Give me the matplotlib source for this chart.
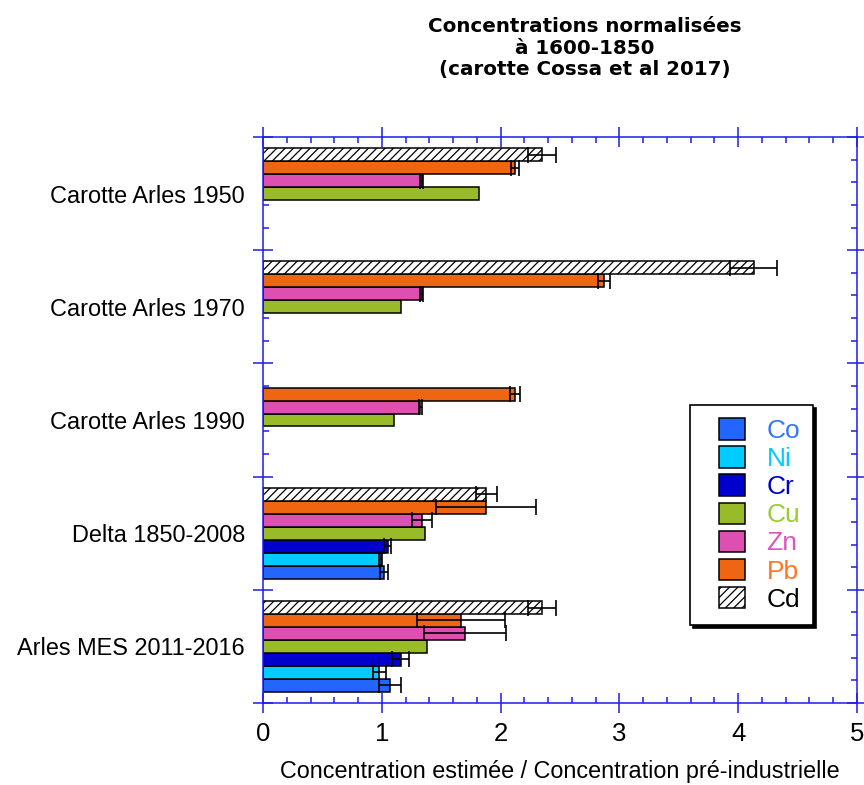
import numpy as np
import matplotlib
matplotlib.use('Agg')
import matplotlib.pyplot as plt
from matplotlib.patches import Rectangle
from matplotlib.container import BarContainer
from matplotlib.legend_handler import HandlerPatch
from matplotlib.ticker import MultipleLocator, AutoMinorLocator

plt.rcParams['font.family'] = ['Liberation Sans', 'DejaVu Sans']
plt.rcParams['hatch.linewidth'] = 0.9

# groupes (du haut vers le bas)
groupes = ['Carotte Arles 1950', 'Carotte Arles 1970', 'Carotte Arles 1990',
           'Delta 1850-2008', 'Arles MES 2011-2016']

# éléments (ordre de la légende)
elements = ['Co', 'Ni', 'Cr', 'Cu', 'Zn', 'Pb', 'Cd']

nan = np.nan
co = [nan, nan, nan, 1.02, 1.07]
ni = [nan, nan, nan, 0.99, 0.98]
cr = [nan, nan, nan, 1.05, 1.16]
cu = [1.82, 1.16, 1.105, 1.365, 1.38]
zn = [1.335, 1.335, 1.325, 1.34, 1.70]
pb = [2.12, 2.87, 2.12, 1.88, 1.67]
cd = [2.35, 4.13, nan, 1.88, 2.35]

co_err = [nan, nan, nan, 0.035, 0.09]
ni_err = [nan, nan, nan, 0.01, 0.055]
cr_err = [nan, nan, nan, 0.03, 0.07]
cu_err = [nan, nan, nan, nan, nan]
zn_err = [0.01, 0.01, 0.01, 0.085, 0.345]
pb_err = [0.035, 0.05, 0.04, 0.42, 0.37]
cd_err = [0.12, 0.2, nan, 0.09, 0.12]

valeurs = [co, ni, cr, cu, zn, pb, cd]
erreurs = [co_err, ni_err, cr_err, cu_err, zn_err, pb_err, cd_err]

couleurs = ['#2266ff', '#00ccff', '#0000cc', '#99bb2a', '#dd4fb0', '#ee6611', 'white']
couleurs_texte = ['#3377ff', '#00ccff', '#0000cc', '#99cc33', '#dd55bb', '#ff7722', 'black']

bleu = '#1c1cee'

fig = plt.figure(figsize=(8.64, 7.85), dpi=100)
ax = fig.add_axes([263 / 864, 1 - 703 / 785, 594 / 864, 566 / 785])

pos = np.arange(len(groupes))
h = 0.1145
handles = []
for k, (el, v, e, c) in enumerate(zip(elements, valeurs, erreurs, couleurs)):
    y = pos + (3 - k) * h
    hatch = '////' if el == 'Cd' else None
    b = ax.barh(y, v, height=h, color=c, edgecolor='black', linewidth=1.1,
                hatch=hatch, zorder=2, label=el)
    handles.append(b)
    ax.errorbar(v, y, xerr=e, fmt='none', ecolor='black', elinewidth=1.2,
                capsize=5.5, capthick=1.2, zorder=3)

ax.set_xlim(0, 5)
ax.set_ylim(len(groupes) - 0.5, -0.5)

# axes bleus, cadre complet
for s in ax.spines.values():
    s.set_color(bleu)
    s.set_linewidth(1.1)

ax.xaxis.set_major_locator(MultipleLocator(1))
ax.xaxis.set_minor_locator(AutoMinorLocator(5))
ax.yaxis.set_major_locator(MultipleLocator(1, offset=0.5))
ax.yaxis.set_minor_locator(AutoMinorLocator(5))
ax.tick_params(which='major', direction='inout', length=15, width=1.1, color=bleu,
               top=True, right=True, labelleft=False, labelsize=18.5, pad=6)
ax.tick_params(which='minor', direction='in', length=4.5, width=1.1, color=bleu,
               top=True, right=True, bottom=True, left=True)

# noms des groupes
sec = ax.secondary_yaxis('left')
sec.set_yticks(pos, labels=groupes)
sec.tick_params(length=0, pad=13, labelsize=16.9)
sec.spines['left'].set_visible(False)

ax.set_xlabel('Concentration estimée / Concentration pré-industrielle',
              fontsize=16.8, labelpad=10)

fig.text(585 / 864, 1 - 17 / 785,
         'Concentrations normalisées\nà 1600-1850\n(carotte Cossa et al 2017)',
         ha='center', va='top', fontsize=14.3, fontweight='bold',
         family='DejaVu Sans', linespacing=1.18)


def carre(legend, orig_handle, xdescent, ydescent, width, height, fontsize):
    cote = 26 * 72 / 100
    return Rectangle((-xdescent + width - cote, -ydescent), cote, height)


def premier(tgt, src):
    tgt.update_from(src.patches[0])


leg = ax.legend(handles=handles, labels=elements, loc='upper left',
                bbox_to_anchor=(690 / 864, 1 - 405 / 785),
                bbox_transform=fig.transFigure, borderaxespad=0,
                fontsize=19, labelcolor=couleurs_texte,
                handlelength=1.57, handleheight=0.87, handletextpad=0.83,
                labelspacing=0.125, borderpad=0.5,
                fancybox=False, framealpha=1, edgecolor='black',
                shadow={'color': 'black', 'alpha': 1},
                handler_map={BarContainer: HandlerPatch(patch_func=carre,
                                                        update_func=premier)})
leg.get_frame().set_linewidth(1.2)
leg.set_zorder(5)

fig.savefig('out.png', dpi=100)
